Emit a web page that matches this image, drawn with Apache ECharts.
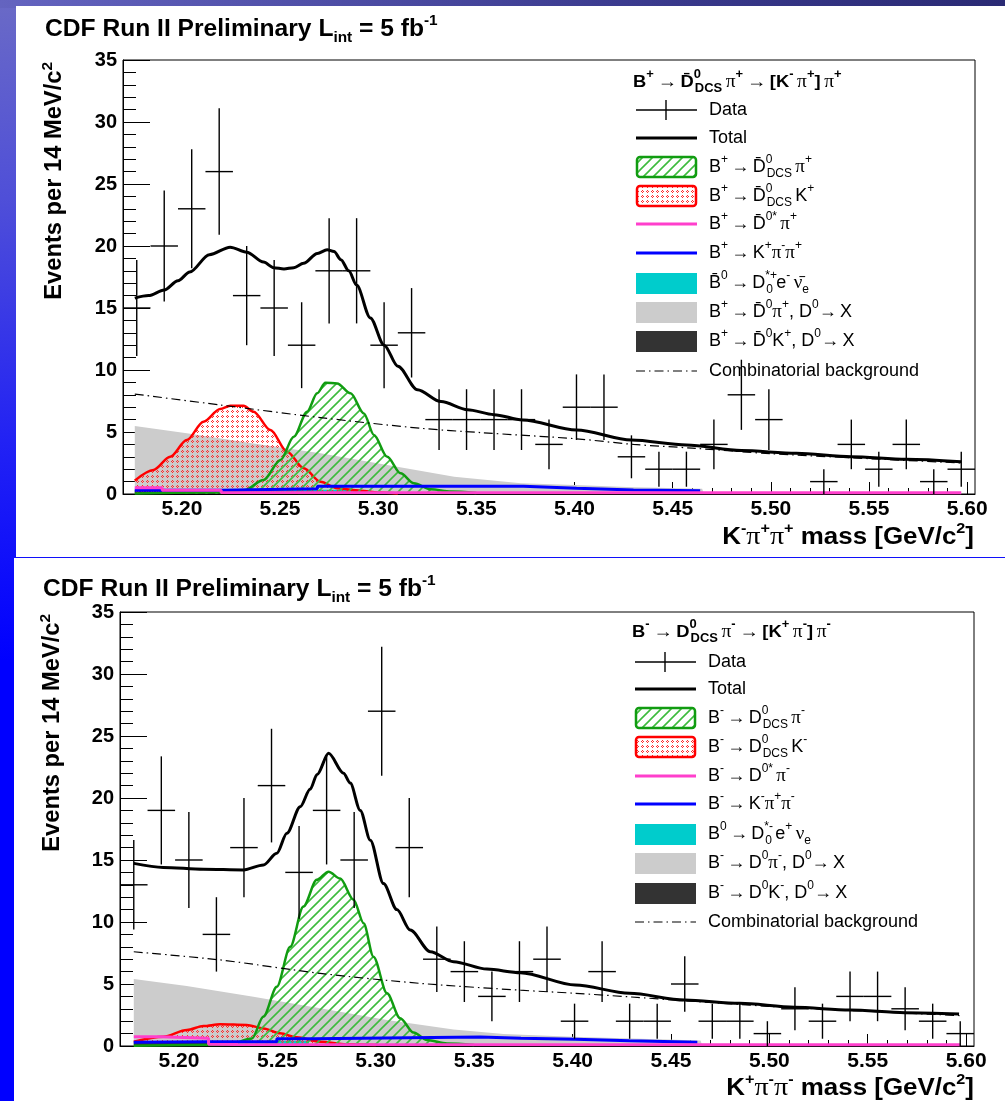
<!DOCTYPE html>
<html>
<head>
<meta charset="utf-8">
<script src="https://cdn.jsdelivr.net/npm/echarts@6/dist/echarts.min.js"></script>
<style>
  html, body { margin: 0; padding: 0; }
  body {
    width: 1005px; height: 1101px; position: relative; overflow: hidden;
    background: linear-gradient(180deg, #6a6ac6 0%, #4f4fd8 18%, #2222f4 40%, #0000ff 60%, #0000ff 100%);
  }
  .band { position: absolute; left: 0; top: 0; width: 1005px; height: 8px;
    background: linear-gradient(90deg, #6464c0 0%, #3c3c90 60%, #2a2a74 100%); }
  .sheet { position: absolute; background: #fff; }
  #chart { position: absolute; left: 0; top: 0; width: 1005px; height: 1101px; }
</style>
</head>
<body>
<div class="band"></div>
<div class="sheet" style="left:16px;top:6px;width:989px;height:551px"></div>
<div class="sheet" style="left:14px;top:558px;width:991px;height:543px"></div>
<div id="chart"></div>
<script>
// ---- histogram binning (GeV/c^2) ----
const massMin = 5.17;
const massMax = 5.604;
const binWidth = 0.014;
const binCenters = [5.177, 5.191, 5.205, 5.219, 5.233, 5.247, 5.261, 5.275, 5.289, 5.303,
  5.317, 5.331, 5.345, 5.359, 5.373, 5.387, 5.401, 5.415, 5.429, 5.443,
  5.457, 5.471, 5.485, 5.499, 5.513, 5.527, 5.541, 5.555, 5.569, 5.583, 5.597];
const massTicks = [5.20, 5.25, 5.30, 5.35, 5.40, 5.45, 5.50, 5.55, 5.60];
const massMinorTicks = [5.18, 5.19, 5.21, 5.22, 5.23, 5.24, 5.26, 5.27, 5.28, 5.29, 5.31, 5.32,
  5.33, 5.34, 5.36, 5.37, 5.38, 5.39, 5.41, 5.42, 5.43, 5.44, 5.46, 5.47, 5.48, 5.49, 5.51,
  5.52, 5.53, 5.54, 5.56, 5.57, 5.58, 5.59];

// ---- B+ sample: event counts per bin ----
const countsPlus = [15, 20, 23, 26, 16, 15, 12, 18, 18, 12, 13, 6, 6, 6, 6, 4, 7, 7, 3, 2,
  2, 4, 8, 6, 0, 1, 4, 2, 4, 1, 2];
// ---- B- sample: event counts per bin ----
const countsMinus = [13, 19, 15, 9, 16, 21, 14, 19, 15, 27, 16, 7, 6, 4, 6, 7, 2, 6, 2, 2,
  5, 2, 2, 1, 3, 2, 4, 4, 3, 2, 1];

// ---- fit components, B+ sample: [mass, events] ----
const totalPlus = [[5.176, 15.8], [5.183, 16.0], [5.191, 16.45], [5.198, 17.2], [5.204, 17.9],
  [5.214, 19.3], [5.2246, 19.9], [5.233, 19.5], [5.2416, 18.7], [5.2467, 18.25], [5.252, 18.15],
  [5.257, 18.25], [5.262, 18.6], [5.269, 19.4], [5.274, 19.7], [5.2775, 19.55], [5.281, 18.9],
  [5.285, 18.0], [5.289, 16.85], [5.296, 14.2], [5.303, 12.0], [5.310, 10.3], [5.320, 8.4],
  [5.332, 7.45], [5.3455, 6.8], [5.359, 6.4], [5.3735, 5.97], [5.401, 5.16], [5.429, 4.35],
  [5.457, 3.95], [5.485, 3.5], [5.513, 3.28], [5.541, 3.0], [5.569, 2.8], [5.597, 2.6]];
const combPlus = [[5.176, 8.06], [5.2195, 7.18], [5.2706, 6.16], [5.3216, 5.3], [5.3523, 4.95],
  [5.401, 4.45], [5.43, 4.0], [5.46, 3.7], [5.50, 3.25], [5.55, 2.85], [5.597, 2.5]];
const grayPlus = [[5.176, 5.48], [5.2025, 4.89], [5.2365, 4.08], [5.2706, 3.28], [5.3046, 2.34],
  [5.3387, 1.4], [5.3727, 0.86], [5.40, 0.72], [5.43, 0.55], [5.465, 0.42], [5.466, 0]];
const redPlus = [[5.176, 1.08], [5.1855, 1.94], [5.194, 3.0], [5.2025, 4.35], [5.211, 5.83],
  [5.2195, 6.85], [5.2246, 7.12], [5.2314, 7.12], [5.2365, 6.64], [5.2451, 5.16], [5.2536, 3.41],
  [5.2621, 2.07], [5.2706, 0.99], [5.2791, 0.46], [5.291, 0.27], [5.30, 0.12], [5.31, 0.05]];
const greenPlus = [[5.176, 0.05], [5.22, 0.15], [5.2316, 0.3], [5.2416, 1.13], [5.2502, 2.74],
  [5.257, 4.62], [5.2638, 6.64], [5.2689, 8.12], [5.2731, 8.98], [5.2791, 8.92], [5.2859, 8.12],
  [5.2927, 6.5], [5.2978, 4.76], [5.3046, 3.0], [5.3114, 1.67], [5.3182, 0.86], [5.3268, 0.38],
  [5.337, 0.2], [5.35, 0.08]];
const bluePlus = [[5.176, 0.3], [5.2195, 0.3], [5.2195, 0.43], [5.269, 0.43], [5.269, 0.62],
  [5.374, 0.62], [5.374, 0.46], [5.401, 0.46], [5.401, 0.32], [5.43, 0.32], [5.43, 0.27], [5.464, 0.27]];
const pinkPlus = [[5.176, 0.5], [5.19, 0.5], [5.19, 0.3], [5.22, 0.3], [5.22, 0.12], [5.597, 0.1]];
const cyanPlus = [[5.2195, 0], [5.2195, 0.35], [5.29, 0.35], [5.29, 0]];
const darkPlus = [[5.176, 0.3], [5.22, 0.3], [5.22, 0]];

// ---- fit components, B- sample: [mass, events] ----
const totalMinus = [[5.177, 14.73], [5.192, 14.4], [5.2124, 14.25], [5.2327, 14.2], [5.2429, 14.6],
  [5.2497, 15.54], [5.2548, 17.15], [5.2616, 19.3], [5.2666, 20.7], [5.2702, 21.9], [5.276, 23.6],
  [5.2836, 22.0], [5.287, 21.2], [5.2921, 19.0], [5.2972, 16.6], [5.3039, 13.1], [5.3107, 11.0],
  [5.3175, 9.35], [5.3277, 7.6], [5.3395, 6.8], [5.3565, 6.2], [5.3735, 5.91], [5.4014, 4.92],
  [5.4289, 4.25], [5.4569, 3.71], [5.4849, 3.44], [5.5128, 3.12], [5.541, 2.9], [5.5688, 2.69],
  [5.5964, 2.58]];
const combMinus = [[5.177, 7.6], [5.2209, 6.94], [5.2717, 5.86], [5.3226, 5.05], [5.3735, 4.5],
  [5.4014, 4.25], [5.43, 3.95], [5.457, 3.65], [5.50, 3.2], [5.55, 2.8], [5.597, 2.45]];
const grayMinus = [[5.177, 5.4], [5.2039, 4.84], [5.2378, 3.98], [5.2717, 3.04], [5.3057, 2.1],
  [5.3395, 1.34], [5.365, 0.97], [5.40, 0.75], [5.43, 0.6], [5.465, 0.45], [5.466, 0]];
const redMinus = [[5.177, 0.35], [5.192, 0.75], [5.204, 1.29], [5.2124, 1.61], [5.2209, 1.75],
  [5.2344, 1.7], [5.2429, 1.42], [5.2514, 1.02], [5.2599, 0.7], [5.2717, 0.35], [5.285, 0.15], [5.30, 0.08]];
const greenMinus = [[5.177, 0.02], [5.225, 0.1], [5.237, 0.6], [5.2429, 2.37], [5.2497, 4.78],
  [5.2565, 8.0], [5.2632, 11.24], [5.27, 13.4], [5.276, 14.06], [5.2819, 13.5], [5.2887, 11.8],
  [5.2938, 9.9], [5.2988, 7.2], [5.3057, 4.25], [5.3124, 2.23], [5.3192, 1.08], [5.326, 0.48],
  [5.3362, 0.2], [5.35, 0.08]];
const blueMinus = [[5.177, 0.3], [5.2158, 0.35], [5.2497, 0.35], [5.2497, 0.59], [5.2683, 0.59],
  [5.2683, 0.73], [5.3531, 0.73], [5.3531, 0.62], [5.3738, 0.62], [5.3738, 0.54], [5.4014, 0.54],
  [5.4014, 0.43], [5.4289, 0.43], [5.4289, 0.3], [5.4634, 0.3]];
const pinkMinus = [[5.177, 0.75], [5.19, 0.75], [5.19, 0.62], [5.215, 0.62], [5.215, 0.15],
  [5.23, 0.12], [5.597, 0.1]];
const cyanMinus = [[5.2158, 0], [5.2158, 0.4], [5.266, 0.4], [5.266, 0]];
const darkMinus = [[5.177, 0.35], [5.215, 0.35], [5.215, 0]];

// ---- colours ----
const C = {
  green: '#119c11', red: '#ff0000', pink: '#ff3fcc', blue: '#0000ff',
  cyan: '#00cccc', gray: '#cccccc', dark: '#333333', black: '#000000'
};
const SANS = 'Liberation Sans';
const SERIF = 'Liberation Serif';

// fill patterns for the two signal shapes
function hatchPattern(color) {
  const c = document.createElement('canvas');
  c.width = 10; c.height = 10;
  const g = c.getContext('2d');
  g.strokeStyle = color;
  g.lineWidth = 1.6;
  g.lineCap = 'square';
  g.beginPath();
  g.moveTo(-1, 11); g.lineTo(11, -1);
  g.moveTo(-6, 6); g.lineTo(6, -6);
  g.moveTo(4, 16); g.lineTo(16, 4);
  g.stroke();
  return c;
}
function dotPattern(color) {
  const c = document.createElement('canvas');
  c.width = 5; c.height = 5;
  const g = c.getContext('2d');
  g.fillStyle = color;
  g.fillRect(2, 0, 1, 1); g.fillRect(1, 1, 1, 1); g.fillRect(3, 1, 1, 1); g.fillRect(2, 2, 1, 1);
  return c;
}
const hatchFill = { image: hatchPattern('#3dbb3d'), repeat: 'repeat' };
const dotFill = { image: dotPattern('#ff2a2a'), repeat: 'repeat' };

// ---- panel layout ----
const panels = [
  { left: 123, top: 60, right: 975, bottom: 494, counts: countsPlus,
    total: totalPlus, comb: combPlus, gray: grayPlus, red: redPlus, green: greenPlus,
    blue: bluePlus, pink: pinkPlus, cyan: cyanPlus, dark: darkPlus },
  { left: 120, top: 612, right: 974, bottom: 1046, counts: countsMinus,
    total: totalMinus, comb: combMinus, gray: grayMinus, red: redMinus, green: greenMinus,
    blue: blueMinus, pink: pinkMinus, cyan: cyanMinus, dark: darkMinus }
];

const grids = [], xAxes = [], yAxes = [], series = [];
panels.forEach((p, i) => {
  grids.push({
    left: p.left, top: p.top, width: p.right - p.left, height: p.bottom - p.top,
    show: true, borderColor: '#000', borderWidth: 1, backgroundColor: 'transparent'
  });
  // major ticks and labels
  xAxes.push({
    gridIndex: i, type: 'value', min: massMin, max: massMax, position: 'bottom',
    axisLine: { lineStyle: { color: '#000', width: 1 } },
    axisTick: { inside: true, length: 12, customValues: massTicks, lineStyle: { color: '#000' } },
    axisLabel: {
      customValues: massTicks, formatter: v => v.toFixed(2), margin: 5,
      fontFamily: SANS, fontWeight: 'bold', fontSize: 21, color: '#000'
    },
    splitLine: { show: false }
  });
  // minor ticks
  xAxes.push({
    gridIndex: i, type: 'value', min: massMin, max: massMax, position: 'bottom',
    axisLine: { show: false },
    axisTick: { inside: true, length: 6, customValues: massMinorTicks, lineStyle: { color: '#000' } },
    axisLabel: { show: false },
    splitLine: { show: false }
  });
  yAxes.push({
    gridIndex: i, type: 'value', min: 0, max: 35, interval: 5,
    axisLine: { show: true, lineStyle: { color: '#000', width: 1 } },
    axisTick: { show: true, inside: true, length: 27, lineStyle: { color: '#000' } },
    minorTick: { show: true, splitNumber: 5, length: 13, lineStyle: { color: '#000' } },
    axisLabel: { margin: 6, fontFamily: SANS, fontWeight: 'bold', fontSize: 20, color: '#000' },
    splitLine: { show: false }
  });

  const xi = i * 2, yi = i;
  const area = (name, data, color, z) => ({
    name, type: 'line', xAxisIndex: xi, yAxisIndex: yi, data, showSymbol: false, z,
    lineStyle: { width: 0 }, areaStyle: { color, opacity: 1 }, silent: true
  });
  const curve = (name, data, color, width, z, extra) => Object.assign({
    name, type: 'line', xAxisIndex: xi, yAxisIndex: yi, data, showSymbol: false, z,
    lineStyle: { color, width }, silent: true
  }, extra || {});

  series.push(area('gray', p.gray, C.gray, 1));
  series.push(area('dark', p.dark, C.dark, 2));
  series.push(area('cyan', p.cyan, C.cyan, 2));
  series.push(curve('red', p.red, C.red, 2.5, 3, {
    smooth: 0.3, smoothMonotone: 'x', areaStyle: { color: dotFill, opacity: 1 } }));
  series.push(curve('green', p.green, C.green, 2.5, 4, {
    smooth: 0.3, smoothMonotone: 'x', areaStyle: { color: hatchFill, opacity: 1 } }));
  series.push(curve('blue', p.blue, C.blue, 3, 5));
  series.push(curve('pink', p.pink, C.pink, 3, 5));
  series.push(curve('comb', p.comb, C.black, 1.2, 6, {
    smooth: 0.3, lineStyle: { color: '#000', width: 1.2, type: [9, 4, 1.5, 4] } }));
  series.push(curve('total', p.total, C.black, 3, 7, { smooth: 0.3, smoothMonotone: 'x' }));
  series.push({
    name: 'data', type: 'custom', xAxisIndex: xi, yAxisIndex: yi, z: 8, silent: true,
    data: binCenters.map((m, k) => [m, p.counts[k]]),
    renderItem: (params, api) => {
      const m = api.value(0), n = api.value(1);
      if (!n) return { type: 'group', children: [] };
      const err = Math.sqrt(n);
      const a = api.coord([m - binWidth / 2, n]), b = api.coord([m + binWidth / 2, n]);
      const t = api.coord([m, n + err]), u = api.coord([m, n - err]);
      const st = { stroke: '#000', lineWidth: 1.4 };
      return { type: 'group', children: [
        { type: 'line', shape: { x1: a[0], y1: a[1], x2: b[0], y2: b[1] }, style: st },
        { type: 'line', shape: { x1: t[0], y1: t[1], x2: u[0], y2: u[1] }, style: st }
      ] };
    }
  });
});

// ---- text styles for titles and legends ----
const richTitle = {
  t: { fontFamily: SANS, fontWeight: 'bold', fontSize: 24, color: '#000', lineHeight: 32 },
  sub: { fontFamily: SANS, fontWeight: 'bold', fontSize: 15, color: '#000', lineHeight: 12, verticalAlign: 'bottom' },
  sup: { fontFamily: SANS, fontWeight: 'bold', fontSize: 15, color: '#000', lineHeight: 15, verticalAlign: 'top' },
  pi: { fontFamily: SERIF, fontSize: 26, color: '#000', lineHeight: 32 }
};
const richAxisTitle = {
  t: { fontFamily: SANS, fontWeight: 'bold', fontSize: 23, color: '#000', lineHeight: 30 },
  sup: { fontFamily: SANS, fontWeight: 'bold', fontSize: 15, color: '#000', lineHeight: 15, verticalAlign: 'top' }
};
const richLegend = {
  n: { fontFamily: SANS, fontSize: 18, color: '#000', lineHeight: 26 },
  pi: { fontFamily: SERIF, fontSize: 19, color: '#000', lineHeight: 26 },
  ar: { fontFamily: SERIF, fontSize: 18, color: '#555', lineHeight: 26 },
  sup: { fontFamily: SANS, fontSize: 12, color: '#000', lineHeight: 12, verticalAlign: 'top' },
  supz: { fontFamily: SANS, fontSize: 12, color: '#000', lineHeight: 12, verticalAlign: 'top', width: 1 },
  sub: { fontFamily: SANS, fontSize: 12, color: '#000', lineHeight: 12, verticalAlign: 'bottom' },
  hb: { fontFamily: SANS, fontWeight: 'bold', fontSize: 17, color: '#000', lineHeight: 26 },
  hpi: { fontFamily: SERIF, fontSize: 18, color: '#000', lineHeight: 26 },
  hsup: { fontFamily: SANS, fontWeight: 'bold', fontSize: 12, color: '#000', lineHeight: 12, verticalAlign: 'top' },
  hsupz: { fontFamily: SANS, fontWeight: 'bold', fontSize: 12, color: '#000', lineHeight: 12, verticalAlign: 'top', width: 1 },
  hsub: { fontFamily: SANS, fontWeight: 'bold', fontSize: 12, color: '#000', lineHeight: 12, verticalAlign: 'bottom' }
};

const titleText = '{t|CDF Run II Preliminary L}{sub|int}{t| = 5 fb}{sup|-1}';
const yTitleText = '{t|Events per 14 MeV/c}{sup|2}';
const xTitlePlus = '{t|K}{sup|-}{pi|π}{sup|+}{pi|π}{sup|+}{t| mass [GeV/c}{sup|2}{t|]}';
const xTitleMinus = '{t|K}{sup|+}{pi|π}{sup|-}{pi|π}{sup|-}{t| mass [GeV/c}{sup|2}{t|]}';

const legendPlus = [
  ['header', '{hb|B}{hsup|+} {ar|→} {hb|D\u0304}{hsupz|0}{hsub|DCS} {hpi|π}{hsup|+} {ar|→} {hb|[K}{hsup|-} {hpi|π}{hsup|+}{hb|]} {hpi|π}{hsup|+}'],
  ['data', '{n|Data}'],
  ['total', '{n|Total}'],
  ['hatch', '{n|B}{sup|+} {ar|→} {n|D\u0304}{supz|0}{sub|DCS} {pi|π}{sup|+}'],
  ['dots', '{n|B}{sup|+} {ar|→} {n|D\u0304}{supz|0}{sub|DCS} {n|K}{sup|+}'],
  ['pink', '{n|B}{sup|+} {ar|→} {n|D\u0304}{sup|0*} {pi|π}{sup|+}'],
  ['blue', '{n|B}{sup|+} {ar|→} {n|K}{sup|+}{pi|π}{sup|-}{pi|π}{sup|+}'],
  ['cyan', '{n|B\u0304}{sup|0} {ar|→} {n|D}{supz|*+}{sub|0} {n|e}{sup|-} {pi|ν\u0304}{sub|e}'],
  ['gray', '{n|B}{sup|+} {ar|→} {n|D\u0304}{sup|0}{pi|π}{sup|+}{n|, D}{sup|0}{ar|→} {n|X}'],
  ['dark', '{n|B}{sup|+} {ar|→} {n|D\u0304}{sup|0}{n|K}{sup|+}{n|, D}{sup|0}{ar|→} {n|X}'],
  ['comb', '{n|Combinatorial background}']
];
const legendMinus = [
  ['header', '{hb|B}{hsup|-} {ar|→} {hb|D}{hsupz|0}{hsub|DCS} {hpi|π}{hsup|-} {ar|→} {hb|[K}{hsup|+} {hpi|π}{hsup|-}{hb|]} {hpi|π}{hsup|-}'],
  ['data', '{n|Data}'],
  ['total', '{n|Total}'],
  ['hatch', '{n|B}{sup|-} {ar|→} {n|D}{supz|0}{sub|DCS} {pi|π}{sup|-}'],
  ['dots', '{n|B}{sup|-} {ar|→} {n|D}{supz|0}{sub|DCS} {n|K}{sup|-}'],
  ['pink', '{n|B}{sup|-} {ar|→} {n|D}{sup|0*} {pi|π}{sup|-}'],
  ['blue', '{n|B}{sup|-} {ar|→} {n|K}{sup|-}{pi|π}{sup|+}{pi|π}{sup|-}'],
  ['cyan', '{n|B}{sup|0} {ar|→} {n|D}{supz|*-}{sub|0} {n|e}{sup|+} {pi|ν}{sub|e}'],
  ['gray', '{n|B}{sup|-} {ar|→} {n|D}{sup|0}{pi|π}{sup|-}{n|, D}{sup|0}{ar|→} {n|X}'],
  ['dark', '{n|B}{sup|-} {ar|→} {n|D}{sup|0}{n|K}{sup|-}{n|, D}{sup|0}{ar|→} {n|X}'],
  ['comb', '{n|Combinatorial background}']
];

function legendGraphics(entries, rowY, symX, textX) {
  const out = [];
  const x0 = symX, x1 = symX + 61, xm = symX + 30;
  entries.forEach((e, k) => {
    const [kind, text] = e;
    const y = rowY[k];
    if (kind === 'header') {
      out.push({ type: 'text', x: symX - 3, y, scaleX: 1.08,
        style: { text, rich: richLegend, verticalAlign: 'middle', align: 'left' } });
      return;
    }
    if (kind === 'data') {
      out.push({ type: 'line', shape: { x1: x0, y1: y, x2: x1, y2: y }, style: { stroke: '#000', lineWidth: 1.4 } });
      out.push({ type: 'line', shape: { x1: xm, y1: y - 10, x2: xm, y2: y + 10 }, style: { stroke: '#000', lineWidth: 1.4 } });
    } else if (kind === 'total') {
      out.push({ type: 'line', shape: { x1: x0, y1: y, x2: x1, y2: y }, style: { stroke: '#000', lineWidth: 3 } });
    } else if (kind === 'pink' || kind === 'blue') {
      out.push({ type: 'line', shape: { x1: x0, y1: y, x2: x1, y2: y }, style: { stroke: C[kind], lineWidth: 3 } });
    } else if (kind === 'comb') {
      out.push({ type: 'line', shape: { x1: x0, y1: y, x2: x1, y2: y }, style: { stroke: '#000', lineWidth: 1.2, lineDash: [9, 4, 1.5, 4] } });
    } else if (kind === 'hatch' || kind === 'dots') {
      out.push({ type: 'rect', shape: { x: x0 + 1, y: y - 10, width: 59, height: 20, r: 3 },
        style: { fill: kind === 'hatch' ? hatchFill : dotFill, stroke: kind === 'hatch' ? C.green : C.red, lineWidth: 2.5 } });
    } else {
      out.push({ type: 'rect', shape: { x: x0, y: y - 10, width: 61, height: 21 }, style: { fill: C[kind] } });
    }
    out.push({ type: 'text', x: textX, y, style: { text, rich: richLegend, verticalAlign: 'middle', align: 'left' } });
  });
  return out;
}

const graphic = [
  // panel titles
  { type: 'text', x: 45, y: 29, scaleX: 1.025, style: { text: titleText, rich: richTitle, verticalAlign: 'middle' } },
  { type: 'text', x: 43, y: 589, scaleX: 1.025, style: { text: titleText, rich: richTitle, verticalAlign: 'middle' } },
  // y-axis titles (read bottom to top, right end at the top of the frame)
  { type: 'text', x: 55, y: 62, rotation: Math.PI / 2, scaleX: 1.03,
    style: { text: yTitleText, rich: richAxisTitle, align: 'right', verticalAlign: 'middle' } },
  { type: 'text', x: 53, y: 614, rotation: Math.PI / 2, scaleX: 1.03,
    style: { text: yTitleText, rich: richAxisTitle, align: 'right', verticalAlign: 'middle' } },
  // x-axis titles
  { type: 'text', x: 974, y: 537, scaleX: 1.08,
    style: { text: xTitlePlus, rich: richTitle, align: 'right', verticalAlign: 'middle' } },
  { type: 'text', x: 974, y: 1088, scaleX: 1.08,
    style: { text: xTitleMinus, rich: richTitle, align: 'right', verticalAlign: 'middle' } }
].concat(
  legendGraphics(legendPlus, [82, 110, 138, 167, 196, 224, 253, 283, 312, 341, 371], 636, 709),
  legendGraphics(legendMinus, [632, 662, 689, 718, 747, 776, 804, 834, 863, 893, 922], 635, 708)
);

const chart = echarts.init(document.getElementById('chart'), null, { renderer: 'canvas' });
chart.setOption({
  animation: false,
  backgroundColor: 'transparent',
  grid: grids,
  xAxis: xAxes,
  yAxis: yAxes,
  series,
  graphic: { elements: graphic.map(g => Object.assign({ z: 50 }, g)) }
});
</script>
</body>
</html>
